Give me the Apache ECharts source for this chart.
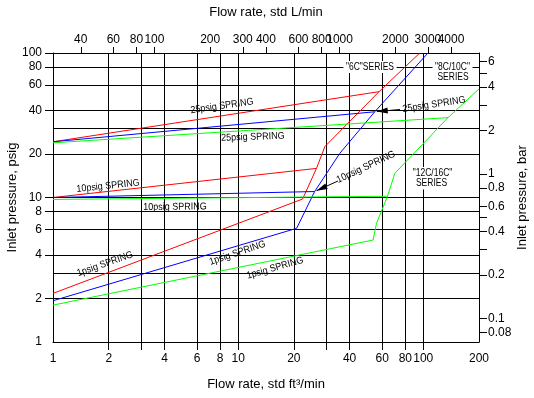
<!DOCTYPE html>
<html>
<head>
<meta charset="utf-8">
<script src="https://cdn.jsdelivr.net/npm/echarts@6/dist/echarts.min.js"></script>
<style>
  html, body { margin: 0; padding: 0; background: #fff; }
  #echart { width: 534px; height: 398px; }
</style>
</head>
<body>
<div id="echart"></div>
<script>
// unit conversions for the secondary axes
var L_PER_FT3 = 28.317;
var PSI_PER_BAR = 14.5038;

// tick / label values
var flowTicks = [2, 3, 4, 6, 8, 10, 20, 30, 40, 60, 80, 100];
var flowLabels = [1, 2, 4, 6, 8, 10, 20, 40, 60, 80, 100, 200];
var litreTicks = [40, 60, 80, 100, 200, 300, 400, 600, 800, 1000, 2000, 3000, 4000];
var psigTicks = [2, 4, 6, 8, 10, 20, 40, 60, 80, 100];
var psigLabels = [1, 2, 4, 6, 8, 10, 20, 40, 60, 80, 100];
var psigExtraGrid = [3, 30];
var barTicks = [0.08, 0.1, 0.2, 0.3, 0.4, 0.5, 0.6, 0.8, 1, 2, 3, 4, 5, 6];
var barLabels = [0.08, 0.1, 0.2, 0.4, 0.6, 0.8, 1, 2, 4, 6];

// "6C" series (red)  [ft3/min, psig]
var red25 = [[1, 24.3], [57.7, 54.0]];
var red10 = [[1, 10], [26.5, 15.9]];
var red1 = [[1, 2.17], [22.3, 9.76]];
var redMax = [[22.3, 9.76], [26.5, 15.9], [29.4, 22.5], [57.7, 54.0], [95.7, 100]];

// "8C/10C" series (blue)
var blue25 = [[1, 24.3], [54.7, 39.2]];
var blue10 = [[1, 10], [25.9, 11.0]];
var blue1 = [[1, 1.93], [20.7, 6.12]];
var blueMax = [[20.7, 6.12], [25.9, 11.0], [35.4, 20.2], [54.7, 39.2], [106, 100]];

// "12C/16C" series (green)
var green25 = [[1, 23.9], [136, 35.7]];
var green10 = [[1, 9.7], [64.1, 10.2]];
var green1 = [[1, 1.8], [53.6, 5.08]];
var greenMax = [[53.6, 5.08], [55.9, 6.63], [64.1, 10.2], [70.2, 14.7], [136, 35.7], [200, 56.4]];

var FONT = "'Liberation Sans', sans-serif";

function fmt(v) { return String(+v.toPrecision(6)); }

function line(name, data, color) {
    return {
        name: name,
        type: 'line',
        data: data,
        xAxisIndex: 0,
        yAxisIndex: 0,
        showSymbol: false,
        silent: true,
        lineStyle: { color: color, width: 1 },
        z: 5
    };
}

function labels(values, margin) {
    return {
        customValues: values, margin: margin, formatter: fmt,
        hideOverlap: false, showMinLabel: true, showMaxLabel: true,
        fontFamily: FONT, fontSize: 12, color: '#000'
    };
}

var black = { color: '#000', width: 1 };
var nameFont = { fontFamily: FONT, fontSize: 13, color: '#000' };

var myChart = echarts.init(document.getElementById('echart'));
var option = {
    animation: false,
    grid: { left: 53, right: 55, top: 53, bottom: 56, outerBoundsMode: 'none', containLabel: false },
    xAxis: [
        {
            type: 'log', position: 'bottom', min: 1, max: 200,
            name: 'Flow rate, std ft\u00b3/min', nameLocation: 'middle', nameGap: 36, nameMoveOverlap: false,
            nameTextStyle: nameFont,
            axisLine: { show: true, onZero: false, lineStyle: black },
            axisTick: { show: true, length: 8, customValues: flowTicks, lineStyle: black },
            axisLabel: labels(flowLabels, 11),
            splitLine: { show: true, lineStyle: black }
        },
        {
            // labels of this axis are drawn below as graphic texts (3000/4000 sit too close
            // for the built-in min/max label check)
            type: 'log', position: 'top', min: L_PER_FT3 * 1, max: L_PER_FT3 * 200,
            name: 'Flow rate, std L/min', nameLocation: 'middle', nameGap: 34, nameMoveOverlap: false,
            nameTextStyle: nameFont,
            axisLine: { show: true, onZero: false, lineStyle: black },
            axisTick: { show: true, length: 6, customValues: litreTicks, lineStyle: black },
            axisLabel: { show: false },
            splitLine: { show: false }
        }
    ],
    yAxis: [
        {
            type: 'log', position: 'left', min: 1, max: 100,
            name: 'Inlet pressure, psig', nameLocation: 'middle', nameGap: 34, nameRotate: 90, nameMoveOverlap: false,
            nameTextStyle: nameFont,
            axisLine: { show: true, onZero: false, lineStyle: black },
            axisTick: { show: true, length: 8, customValues: psigTicks, lineStyle: black },
            axisLabel: labels(psigLabels, 11),
            splitLine: { show: true, lineStyle: black }
        },
        {
            type: 'log', position: 'right', min: 1 / PSI_PER_BAR, max: 100 / PSI_PER_BAR,
            name: 'Inlet pressure, bar', nameLocation: 'middle', nameGap: 37, nameRotate: 90, nameMoveOverlap: false,
            nameTextStyle: nameFont,
            axisLine: { show: true, onZero: false, lineStyle: black },
            axisTick: { show: true, length: 8, customValues: barTicks, lineStyle: black },
            axisLabel: labels(barLabels, 9),
            splitLine: { show: false }
        },
        {
            // unlabelled grid lines
            type: 'log', position: 'left', min: 1, max: 100,
            axisLine: { show: false },
            axisTick: { show: false, customValues: psigExtraGrid },
            axisLabel: { show: false },
            splitLine: { show: true, lineStyle: black }
        }
    ],
    series: [
        line('6C 25psig', red25, '#ff0000'),
        line('6C 10psig', red10, '#ff0000'),
        line('6C 1psig', red1, '#ff0000'),
        line('6C', redMax, '#ff0000'),
        line('8C/10C 25psig', blue25, '#0000ff'),
        line('8C/10C 10psig', blue10, '#0000ff'),
        line('8C/10C 1psig', blue1, '#0000ff'),
        line('8C/10C', blueMax, '#0000ff'),
        line('12C/16C 25psig', green25, '#00ff00'),
        line('12C/16C 10psig', green10, '#00ff00'),
        line('12C/16C 1psig', green1, '#00ff00'),
        line('12C/16C', greenMax, '#00ff00')
    ]
};
myChart.setOption(option);

// annotations
var springLabels = [
    { text: '25psig SPRING', x: 222, y: 106, rot: 8 },
    { text: '25psig SPRING', x: 253, y: 137, rot: 2 },
    { text: '25psig SPRING', x: 434, y: 104.5, rot: 8.5 },
    { text: '10psig SPRING', x: 108, y: 186, rot: 6 },
    { text: '10psig SPRING', x: 175, y: 207, rot: 0.5 },
    { text: '10psig SPRING', x: 366, y: 167, rot: 25 },
    { text: '1psig SPRING', x: 105, y: 264, rot: 19.5 },
    { text: '1psig SPRING', x: 237.5, y: 253, rot: 18.5 },
    { text: '1psig SPRING', x: 275, y: 268, rot: 16 }
];
var seriesLabels = [
    { text: '"6C"SERIES', x: 370, y: 67 },
    { text: '"8C/10C"', x: 452.5, y: 67 },
    { text: 'SERIES', x: 453, y: 77.5 },
    { text: '"12C/16C"', x: 432.5, y: 173 },
    { text: 'SERIES', x: 431.5, y: 183.5 }
];
var arrows = [
    { to: blue25[1], tail: [400, 109.5] },
    { to: blue10[1], tail: [338, 181] }
];

var graphics = [];

// top axis labels, placed with the top axis scale
var plotTop = myChart.convertToPixel({ yAxisIndex: 0 }, 100);
litreTicks.forEach(function (v) {
    graphics.push({
        type: 'text', x: myChart.convertToPixel({ xAxisIndex: 1 }, v), y: plotTop - 7, z: 20,
        style: { text: fmt(v), fill: '#000', font: '12px ' + FONT, align: 'center', verticalAlign: 'bottom' }
    });
});

springLabels.forEach(function (a) {
    graphics.push({
        type: 'text', x: a.x, y: a.y, rotation: a.rot * Math.PI / 180, scaleX: 0.9, z: 20,
        style: { text: a.text, fill: '#000', font: '10px ' + FONT, align: 'center', verticalAlign: 'middle' }
    });
});
seriesLabels.forEach(function (a) {
    graphics.push({
        type: 'text', x: a.x, y: a.y, scaleX: 0.85, z: 20,
        style: { text: a.text, fill: '#000', font: '10px ' + FONT, align: 'center', verticalAlign: 'middle',
            backgroundColor: '#fff', padding: [1, 3] }
    });
});
arrows.forEach(function (a) {
    var p = myChart.convertToPixel({ xAxisIndex: 0, yAxisIndex: 0 }, a.to);
    var dx = a.tail[0] - p[0], dy = a.tail[1] - p[1];
    var len = Math.sqrt(dx * dx + dy * dy);
    var ux = dx / len, uy = dy / len;
    var tip = [p[0] + ux * 2, p[1] + uy * 2];
    var base = [tip[0] + ux * 11, tip[1] + uy * 11];
    graphics.push({
        type: 'line', z: 20,
        shape: { x1: tip[0], y1: tip[1], x2: a.tail[0], y2: a.tail[1] },
        style: { stroke: '#000', lineWidth: 1 }
    });
    graphics.push({
        type: 'polygon', z: 20,
        shape: { points: [tip, [base[0] - uy * 3, base[1] + ux * 3], [base[0] + uy * 3, base[1] - ux * 3]] },
        style: { fill: '#000' }
    });
});
myChart.setOption({ graphic: graphics });
window.onresize = myChart.resize;
</script>
</body>
</html>
